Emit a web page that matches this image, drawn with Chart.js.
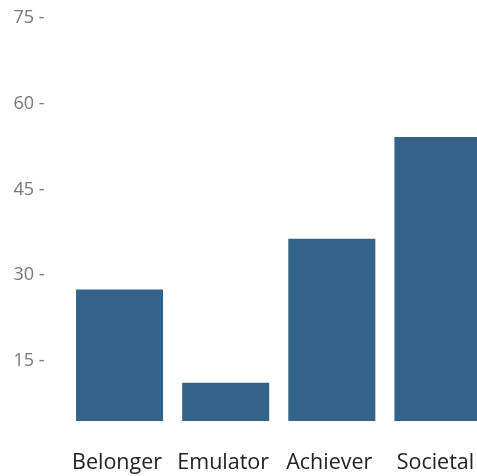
<!DOCTYPE html>
<html>
<head>
<meta charset="utf-8">
<script src="https://cdn.jsdelivr.net/npm/chart.js@4"></script>
<style>
html,body{margin:0;padding:0;overflow:hidden;background:#fff;width:477px;height:476px;}
#wrap{position:absolute;left:0;top:0;width:491px;height:476px;}
</style>
</head>
<body>
<div id="wrap"><canvas id="c"></canvas></div>
<script>
const categories = ["Belonger", "Emulator", "Achiever", "Societal"];
const values = [27.5, 11.2, 36.4, 54.2];
const yTicks = [15, 30, 45, 60, 75];
const yMin = 4.5;
const yMax = 75;

function noPad(s) { s.paddingTop = 0; s.paddingBottom = 0; s.paddingLeft = 0; s.paddingRight = 0; }

new Chart(document.getElementById('c'), {
  type: 'bar',
  data: {
    labels: categories,
    datasets: [{
      data: values,
      backgroundColor: '#336389',
      borderWidth: 0,
      base: yMin,
      categoryPercentage: 1,
      barPercentage: 0.82
    }]
  },
  options: {
    responsive: true,
    maintainAspectRatio: false,
    animation: false,
    layout: { padding: { top: 18, right: 0, bottom: 0, left: 0 } },
    plugins: { legend: { display: false }, tooltip: { enabled: false } },
    scales: {
      x: {
        grid: { display: false, drawTicks: false },
        border: { display: false },
        ticks: {
          color: '#222',
          font: { family: 'Open Sans', size: 21.5 },
          padding: 29,
          labelOffset: -2.5,
          maxRotation: 0
        },
        afterFit: s => { s.height = 55; noPad(s); }
      },
      y: {
        min: yMin,
        max: yMax,
        grid: { display: false, drawTicks: false },
        border: { display: false },
        afterBuildTicks: s => { s.ticks = yTicks.map(v => ({ value: v })); },
        ticks: {
          color: '#777',
          font: { family: 'Open Sans', size: 18 },
          padding: 22,
          callback: v => v + ' -'
        },
        afterFit: s => { s.width = 66.5; noPad(s); }
      }
    }
  }
});
</script>
</body>
</html>
